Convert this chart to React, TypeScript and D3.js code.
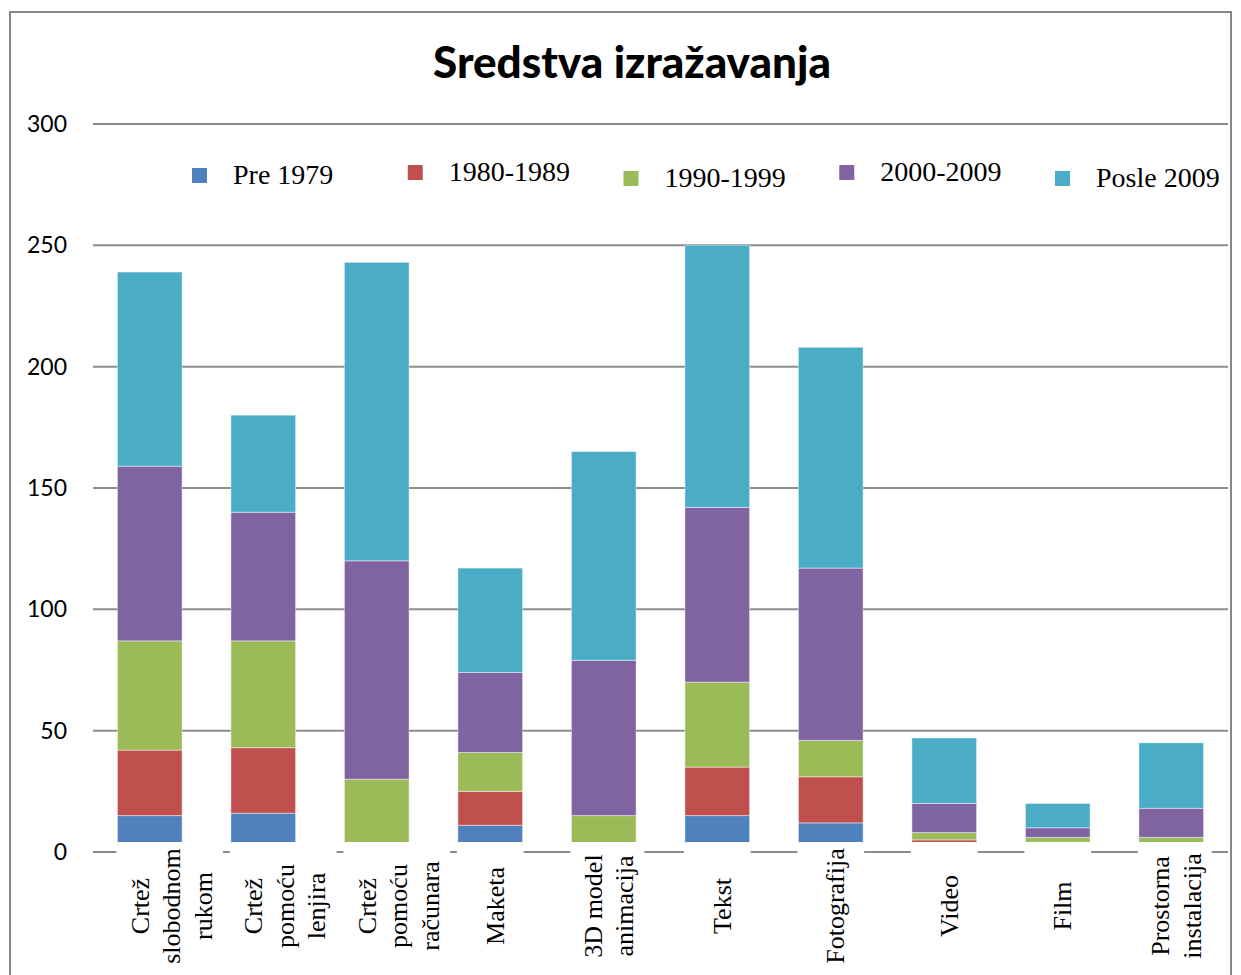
import React from "react";
import * as d3 from "d3";

// categories (label lines separated by \n)
const categories = [
  "Crtež\nslobodnom\nrukom",
  "Crtež\npomoću\nlenjira",
  "Crtež\npomoću\nračunara",
  "Maketa",
  "3D model\nanimacija",
  "Tekst",
  "Fotografija",
  "Video",
  "Film",
  "Prostorna\ninstalacija",
];

const seriesNames = ["Pre 1979", "1980-1989", "1990-1999", "2000-2009", "Posle 2009"];
const colors = ["#4F81BD", "#C0504D", "#9BBB59", "#8064A2", "#4BACC6"];

const pre1979 = [15, 16, 0, 11, 0, 15, 12, 2, 3, 0];
const y1980 = [27, 27, 0, 14, 3, 20, 19, 3, 1, 0];
const y1990 = [45, 44, 30, 16, 12, 35, 15, 3, 2, 6];
const y2000 = [72, 53, 90, 33, 64, 72, 71, 12, 4, 12];
const posle2009 = [80, 40, 123, 43, 86, 108, 91, 27, 10, 27];

const yTicks = [0, 50, 100, 150, 200, 250, 300];

const W = 1241, H = 975;
const margin = { top: 124, left: 93, right: 13, bottom: 123 };

export default function App() {
  const rows = categories.map((c, i) => ({
    cat: c,
    s0: pre1979[i],
    s1: y1980[i],
    s2: y1990[i],
    s3: y2000[i],
    s4: posle2009[i],
  }));
  const keys = ["s0", "s1", "s2", "s3", "s4"];
  const stacked = d3.stack<any>().keys(keys)(rows);

  const x = d3.scaleBand()
    .domain(categories)
    .range([margin.left, W - margin.right])
    .paddingInner(0.43)
    .paddingOuter(0.215);
  const y = d3.scaleLinear().domain([0, 300]).range([H - margin.bottom, margin.top]);

  const base = y(0);
  const lineH = 31.5;
  const labelMid = 906;
  const boxTop = base - 10;

  const legendX = d3.scaleLinear().domain([0, seriesNames.length - 1]).range([192, 1055]);
  const legendDy = [0, -3, 3, -3, 3];

  return (
    <svg width={W} height={H} style={{ position: "absolute", left: 0, top: 0 }}>
      <rect x={0} y={0} width={W} height={H} fill="#fff" />
      <rect x={10} y={12} width={W - 20} height={H} fill="none" stroke="#878787" strokeWidth={2} />

      <text x={632} y={78} textAnchor="middle" fontFamily="Lato, 'Open Sans', sans-serif"
        fontWeight="900" fontSize={44} fill="#000">Sredstva izražavanja</text>

      {/* gridlines */}
      {yTicks.map((t) => (
        <g key={t}>
          <line x1={margin.left} x2={W - margin.right} y1={y(t)} y2={y(t)} stroke="#8c8c8c" strokeWidth={2} />
          <text x={67} y={y(t)} dy="0.35em" textAnchor="end" fontFamily="Lato, 'Open Sans', sans-serif"
            fontSize={23} fill="#000">{t}</text>
        </g>
      ))}

      {/* legend */}
      {seriesNames.map((s, i) => (
        <g key={s}>
          <rect x={legendX(i)} y={168 + legendDy[i]} width={15} height={15} fill={colors[i]} />
          <text x={legendX(i) + 41} y={184 + legendDy[i]} fontFamily="'Liberation Serif', 'Times New Roman', serif"
            fontSize={28} fill="#000">{s}</text>
        </g>
      ))}

      {/* bars */}
      {stacked.map((layer, si) => (
        <g key={si} fill={colors[si]}>
          {layer.map((d, i) => {
            const h = y(d[0]) - y(d[1]);
            if (h <= 0) return null;
            return (
              <rect key={i} x={x(categories[i])} y={y(d[1])} width={x.bandwidth()} height={h}
                stroke="#ffffff" strokeOpacity={0.45} strokeWidth={1} />
            );
          })}
        </g>
      ))}

      {/* category labels with white boxes */}
      {categories.map((c) => {
        const lines = c.split("\n");
        const bx = x(c) as number;
        const cx = bx + x.bandwidth() / 2 + (lines.length === 3 ? 22 : 5);
        const half = (lines.length * lineH) / 2;
        const left = Math.min(cx - half - 4, bx - 1);
        const right = Math.max(cx + half + 4, bx + x.bandwidth() + 1);
        return (
          <g key={c}>
            <rect x={left} y={boxTop} width={right - left} height={H - boxTop} fill="#fff" rx={3} />
            {lines.map((ln, li) => (
              <text key={li}
                transform={`translate(${cx - half + lineH * (li + 0.5)},${labelMid}) rotate(-90)`}
                textAnchor="middle" dominantBaseline="central"
                fontFamily="'Liberation Serif', 'Times New Roman', serif" fontSize={26} fill="#000">
                {ln}
              </text>
            ))}
          </g>
        );
      })}
    </svg>
  );
}
